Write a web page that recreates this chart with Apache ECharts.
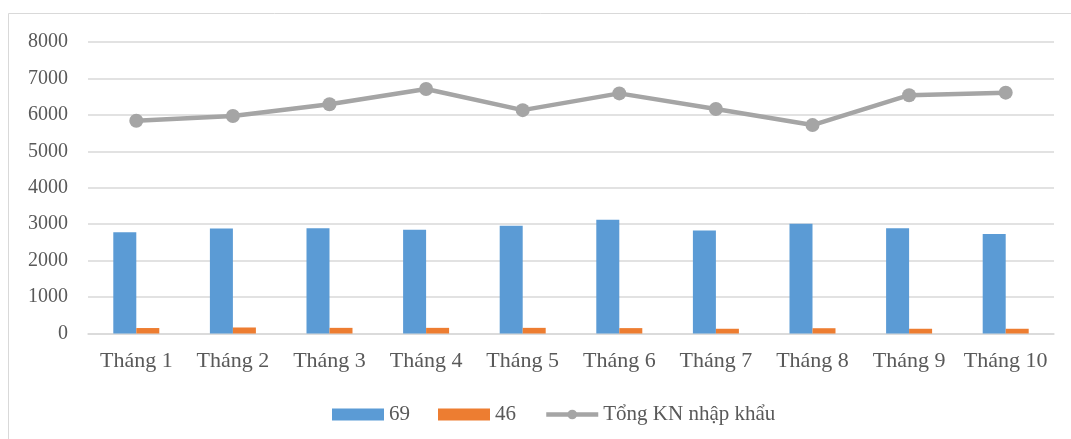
<!DOCTYPE html>
<html>
<head>
<meta charset="utf-8">
<script src="https://cdn.jsdelivr.net/npm/echarts@6/dist/echarts.min.js"></script>
<style>
  html, body { margin: 0; padding: 0; background: #fff; }
  #chart { width: 1071px; height: 439px; }
</style>
</head>
<body>
<div id="chart"></div>
<script>
// Monthly import turnover
const months = ['Tháng 1', 'Tháng 2', 'Tháng 3', 'Tháng 4', 'Tháng 5',
                'Tháng 6', 'Tháng 7', 'Tháng 8', 'Tháng 9', 'Tháng 10'];
const series69 = [2780, 2880, 2890, 2850, 2960, 3120, 2830, 3010, 2890, 2730];
const series46 = [150, 165, 155, 155, 155, 148, 130, 145, 130, 130];
const totalImport = [5840, 5970, 6290, 6710, 6130, 6590, 6160, 5720, 6540, 6610];
const seriesNames = ['69', '46', 'Tổng KN nhập khẩu'];

const FONT = '"Liberation Serif", "Times New Roman", serif';
const TEXT = '#595959';
const GRID = '#d9d9d9';

const chart = echarts.init(document.getElementById('chart'), null, { renderer: 'canvas' });

chart.setOption({
  animation: false,
  backgroundColor: '#fff',
  graphic: [{
    type: 'rect',
    shape: { x: 8.5, y: 13.5, width: 1080, height: 450 },
    style: { fill: 'none', stroke: GRID, lineWidth: 1 },
    silent: true
  }],
  grid: { left: 88, right: 17, top: 42, bottom: 105.5, containLabel: false },
  legend: {
    left: 327,
    top: 399,
    itemWidth: 52,
    itemHeight: 12,
    itemGap: 28,
    textStyle: { fontFamily: FONT, fontSize: 21, color: TEXT },
    data: [
      { name: seriesNames[0], icon: 'rect' },
      { name: seriesNames[1], icon: 'rect' },
      { name: seriesNames[2], lineStyle: { width: 4.5 } }
    ]
  },
  xAxis: {
    type: 'category',
    data: months,
    axisLine: { show: true, lineStyle: { color: GRID, width: 1.5 } },
    axisTick: { show: false },
    axisLabel: { fontFamily: FONT, fontSize: 22, color: TEXT, margin: 17, interval: 0 }
  },
  yAxis: {
    type: 'value',
    min: 0,
    max: 8000,
    interval: 1000,
    axisLine: { show: false },
    axisTick: { show: false },
    axisLabel: { fontFamily: FONT, fontSize: 20, color: TEXT, margin: 20, formatter: v => String(v) },
    splitLine: { lineStyle: { color: GRID, width: 1.5 } }
  },
  series: [
    {
      name: seriesNames[0],
      type: 'bar',
      data: series69,
      barWidth: 23,
      barGap: '0%',
      itemStyle: { color: '#5b9bd5' }
    },
    {
      name: seriesNames[1],
      type: 'bar',
      data: series46,
      barWidth: 23,
      itemStyle: { color: '#ed7d31' }
    },
    {
      name: seriesNames[2],
      type: 'line',
      data: totalImport,
      symbol: 'circle',
      symbolSize: 14,
      lineStyle: { color: '#a5a5a5', width: 4.5 },
      itemStyle: { color: '#a5a5a5' }
    }
  ]
});
</script>
</body>
</html>
